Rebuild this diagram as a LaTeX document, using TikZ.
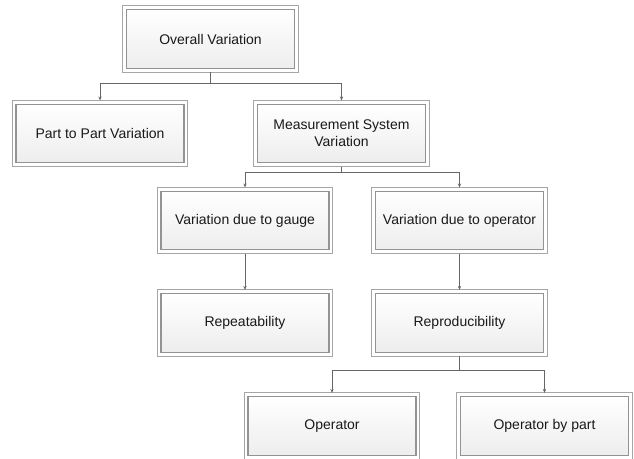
\documentclass[tikz,border=0pt]{standalone}
\usepackage{fontspec}
\setmainfont{Liberation Sans}
\usetikzlibrary{arrows.meta}

\tikzset{every picture/.style={line width=0.75pt}}
\tikzset{
  varbox/.style={draw=gray!85, line width=0.8pt,
    top color=white, bottom color=gray!14,
    minimum width=126pt, minimum height=44pt,
    align=center, inner sep=2pt, text=black!90,
    font=\fontsize{10.5}{12.5}\selectfont,
    append after command={
      \pgfextra{\draw [gray!70, line width=0.8pt]
        ([shift={(-2.4pt,-2.4pt)}]\tikzlastnode.north west) rectangle
        ([shift={(2.4pt,2.4pt)}]\tikzlastnode.south east);}}},
  link/.style={draw=gray!80!black, line width=0.7pt, -{Stealth[length=3pt,width=2.5pt]}}
}

\begin{document}
\begin{tikzpicture}[x=0.75pt,y=0.75pt,yscale=-1,xscale=1]
\useasboundingbox (0,0) rectangle (634,458);

%Shape: Rectangle [id:ov]
\node [varbox] (ov) at (210.5,39) {Overall Variation};
%Shape: Rectangle [id:ppv]
\node [varbox] (ppv) at (100,133.5) {Part to Part Variation};
%Shape: Rectangle [id:msv]
\node [varbox] (msv) at (341.5,133.5) {Measurement System\\Variation};
%Shape: Rectangle [id:vgauge]
\node [varbox] (vgauge) at (245,220.5) {Variation due to gauge};
%Shape: Rectangle [id:voper]
\node [varbox] (voper) at (459.5,220.5) {Variation due to operator};
%Shape: Rectangle [id:repeat]
\node [varbox] (repeat) at (245,323) {Repeatability};
%Shape: Rectangle [id:reprod]
\node [varbox] (reprod) at (459.5,323) {Reproducibility};
%Shape: Rectangle [id:oper]
\node [varbox] (oper) at (332,426) {Operator};
%Shape: Rectangle [id:operpart]
\node [varbox] (operpart) at (544.5,426) {Operator by part};

%Connectors
\draw [link] ([yshift=2.4pt]ov.south) -- ++(0,11) -| ([yshift=-2.4pt]ppv.north);
\draw [link] ([yshift=2.4pt]ov.south) -- ++(0,11) -| ([yshift=-2.4pt]msv.north);
\draw [link] ([yshift=2.4pt]msv.south) -- ++(0,6) -| ([yshift=-2.4pt]vgauge.north);
\draw [link] ([yshift=2.4pt]msv.south) -- ++(0,6) -| ([yshift=-2.4pt]voper.north);
\draw [link] ([yshift=2.4pt]vgauge.south) -- ([yshift=-2.4pt]repeat.north);
\draw [link] ([yshift=2.4pt]voper.south) -- ([yshift=-2.4pt]reprod.north);
\draw [link] ([yshift=2.4pt]reprod.south) -- ++(0,14) -| ([yshift=-2.4pt]oper.north);
\draw [link] ([yshift=2.4pt]reprod.south) -- ++(0,14) -| ([yshift=-2.4pt]operpart.north);

\end{tikzpicture}
\end{document}
